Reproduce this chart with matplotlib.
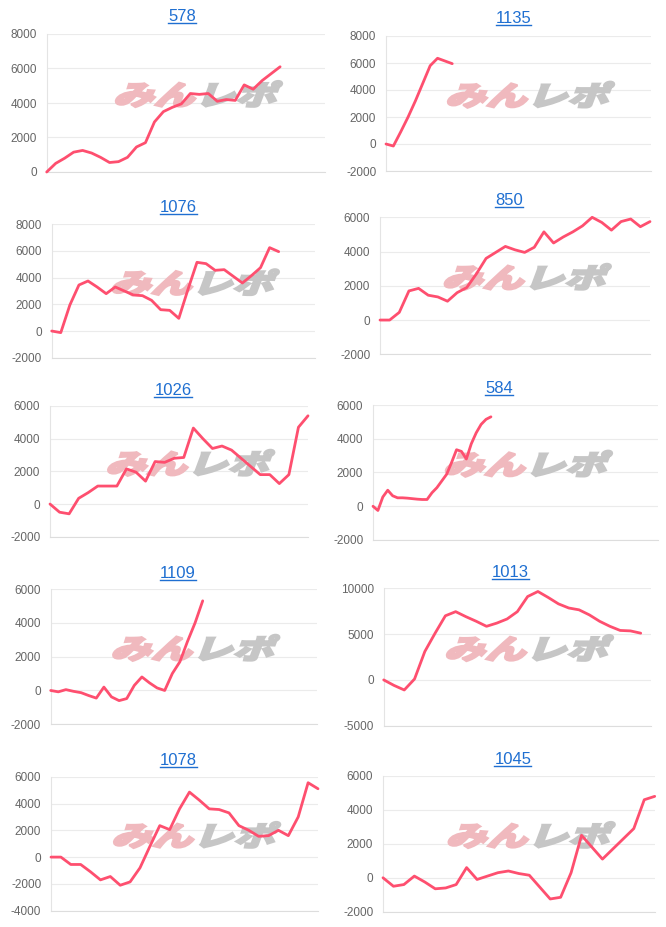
import matplotlib
matplotlib.use('Agg')
import matplotlib.pyplot as plt
from matplotlib.textpath import TextPath
from matplotlib.font_manager import FontProperties
from matplotlib.patches import PathPatch
from matplotlib.transforms import Affine2D, IdentityTransform
from matplotlib.lines import Line2D

plt.rcParams['font.family'] = ['Liberation Sans', 'DejaVu Sans']
plt.rcParams['axes.unicode_minus'] = False

titles = ['578', '1135', '1076', '850', '1026', '584', '1109', '1013', '1078', '1045']

s578 = [0, 500, 800, 1150, 1250, 1100, 850, 550, 600, 850, 1450, 1700, 2900, 3500,
        3750, 3950, 4550, 4500, 4550, 4100, 4200, 4150, 5050, 4800, 5300, 5700, 6100]
s1135 = [0, -150, 900, 2000, 3200, 4500, 5800, 6350, 6150, 5950]
s1076 = [0, -120, 1950, 3450, 3750, 3300, 2800, 3300, 3000, 2700, 2650, 2300, 1600,
         1550, 950, 3100, 5150, 5050, 4550, 4600, 4100, 3600, 4150, 4750, 6250, 5950]
s850 = [0, 0, 450, 1700, 1850, 1450, 1350, 1100, 1600, 1900, 2700, 3600, 3950, 4300,
        4100, 3950, 4250, 5150, 4500, 4850, 5150, 5500, 6000, 5700, 5250, 5750, 5900,
        5450, 5750]
s1026 = [0, -500, -600, 350, 700, 1100, 1100, 1100, 2150, 1950, 1400, 2600, 2550, 2800,
         2850, 4650, 4000, 3400, 3550, 3300, 2800, 2300, 1800, 1800, 1250, 1800, 4700, 5400]
s584 = [0, -250, 550, 950, 620, 500, 500, 480, 450, 420, 400, 400, 800, 1100, 1500,
        1900, 2600, 3350, 3250, 2800, 3700, 4350, 4850, 5150, 5300]
s1109 = [0, -80, 50, -50, -130, -300, -450, 200, -380, -600, -480, 300, 800, 450, 150,
         0, 1000, 1700, 2900, 4000, 5300]
s1013 = [0, -600, -1100, 100, 3100, 5100, 7000, 7450, 6900, 6400, 5850, 6200, 6650,
         7450, 9100, 9650, 9000, 8300, 7850, 7650, 7100, 6400, 5850, 5400, 5350, 5100]
s1078 = [0, 0, -550, -550, -1100, -1700, -1450, -2100, -1850, -800, 800, 2350, 2050,
         3600, 4850, 4250, 3600, 3550, 3300, 2350, 2000, 1550, 1600, 2000, 1600, 3000,
         5550, 5100]
s1045 = [0, -500, -400, 100, -250, -650, -600, -400, 600, -100, 100, 300, 400, 250, 150,
         -550, -1250, -1150, 300, 2500, 1800, 1100, 1700, 2300, 2900, 4600, 4800]

series = [s578, s1135, s1076, s850, s1026, s584, s1109, s1013, s1078, s1045]

# number of x slots on each chart (index of the right edge)
x_slots = [31, 36, 29, 28, 27, 58, 35, 26, 27, 26]
y_lims = [(0, 8000), (-2000, 8000), (-2000, 8000), (-2000, 6000), (-2000, 6000),
          (-2000, 6000), (-2000, 6000), (-5000, 10000), (-4000, 6000), (-2000, 6000)]
y_steps = [2000, 2000, 2000, 2000, 2000, 2000, 2000, 5000, 2000, 2000]

W, H = 666, 927
# plot boxes in pixels: left, right, top, bottom
boxes = [(46.7, 325, 34, 172), (386, 651, 36, 171),
         (51.7, 315, 224.3, 357.7), (380, 650, 217.3, 354.3),
         (50, 308, 406, 536.7), (373, 658, 405, 540),
         (50.7, 316.7, 589, 724.3), (383.7, 651, 588.3, 725.7),
         (51, 318, 776.7, 910.7), (383, 654.7, 776, 911.7)]
# title centre x and baseline y in pixels
title_pos = [(181.8, 20.7), (513.5, 23.3), (178.3, 212.3), (509.2, 205),
             (173, 395), (499.3, 393.3), (178, 577.7), (510.5, 576.7),
             (178.7, 765), (512.8, 764)]

line_col = '#fe4f6f'
grid_col = '#ebebeb'
title_col = '#1f6fd1'

fig = plt.figure(figsize=(W / 100, H / 100), dpi=100)

# watermark paths
fp = FontProperties(family='Noto Sans CJK JP', weight='heavy')
p_pink = TextPath((0, 0), 'みん', size=100, prop=fp)
p_gray = TextPath((200, 0), 'レポ', size=100, prop=fp)
e1 = p_pink.get_extents()
e2 = p_gray.get_extents()
wx0, wx1 = e1.x0, e2.x1
wy0, wy1 = min(e1.y0, e2.y0), max(e1.y1, e2.y1)

titles_txt = []
for i in range(10):
    l, r, t, b = boxes[i]
    ax = fig.add_axes([l / W, 1 - b / H, (r - l) / W, (b - t) / H])
    vals = series[i]
    ax.plot(range(len(vals)), vals, color=line_col, lw=2.0, zorder=3,
            solid_joinstyle='round', solid_capstyle='round', clip_on=False)
    ax.set_xlim(0, x_slots[i])
    lo, hi = y_lims[i]
    ax.set_ylim(lo, hi)
    ax.set_yticks(range(lo, hi + 1, y_steps[i]))
    ax.set_xticks([])
    ax.grid(axis='y', color=grid_col, lw=0.8)
    ax.set_axisbelow(True)
    for s in ['top', 'right']:
        ax.spines[s].set_visible(False)
    ax.spines['left'].set_color('#e4e4e4')
    ax.spines['bottom'].set_color('#dddddd')
    ax.spines['left'].set_linewidth(0.8)
    ax.spines['bottom'].set_linewidth(0.8)
    ax.tick_params(axis='y', length=0, pad=7, labelsize=8.5, labelcolor='#666666')

    # watermark
    cx = l + 0.545 * (r - l)
    cy = H - (t + 0.435 * (b - t))
    sx = 160 / (wx1 - wx0)
    sy = 26 / (wy1 - wy0)
    tr = (Affine2D().translate(-(wx0 + wx1) / 2, -(wy0 + wy1) / 2)
          .skew_deg(14, 0).scale(sx, sy).translate(cx, cy))
    ax.add_patch(PathPatch(p_pink, facecolor='#f0b9be', edgecolor='#f0b9be', lw=1.6,
                           transform=tr, clip_on=False, zorder=1))
    ax.add_patch(PathPatch(p_gray, facecolor='#c6c6c6', edgecolor='#c6c6c6', lw=1.6,
                           transform=tr, clip_on=False, zorder=1))

    tx, ty = title_pos[i]
    txt = fig.text(tx / W, 1 - ty / H, titles[i], ha='center', va='baseline',
                   fontsize=12, color=title_col)
    titles_txt.append((txt, ty))

fig.canvas.draw()
renderer = fig.canvas.get_renderer()
for txt, ty in titles_txt:
    bb = txt.get_window_extent(renderer)
    yy = H - ty - 2
    fig.add_artist(Line2D([bb.x0, bb.x1], [yy, yy], color=title_col, lw=1.0,
                          transform=IdentityTransform()))

fig.savefig('out.png', dpi=100)
